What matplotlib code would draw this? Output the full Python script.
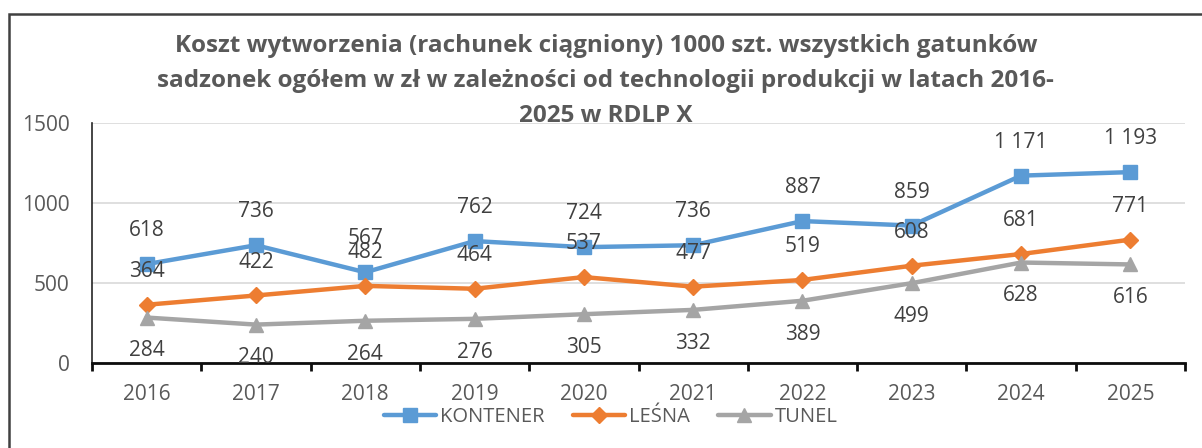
import matplotlib.pyplot as plt
from matplotlib.patches import Rectangle
import numpy as np

# Chart data.
YEARS = ["2016", "2017", "2018", "2019", "2020", "2021", "2022", "2023", "2024", "2025"]
KONTENER = [618, 736, 567, 762, 724, 736, 887, 859, 1171, 1193]
LESNA = [364, 422, 482, 464, 537, 477, 519, 608, 681, 771]
TUNEL = [284, 240, 264, 276, 305, 332, 389, 499, 628, 616]
SERIES_NAMES = ["KONTENER", "LEŚNA", "TUNEL"]
Y_TICKS = [0, 500, 1000, 1500]
TITLE = ("Koszt wytworzenia (rachunek ciągniony) 1000 szt. wszystkich gatunków\n"
         "sadzonek ogółem w zł w zależności od technologii produkcji w latach 2016-\n"
         "2025 w RDLP X")

TEXT_COLOR = "#595959"
FONT = ["Open Sans", "DejaVu Sans"]


def fmt(v):
    # Thousands separated by a space, like the Polish Excel output.
    return "{:,}".format(v).replace(",", " ")


def main():
    plt.rcParams['font.family'] = FONT

    W, H = 1202, 448
    fig = plt.figure(figsize=(W / 100, H / 100), dpi=100)

    # Outer chart border (only top and left visible in the crop).
    fig.patches.append(Rectangle((8.5 / W, -0.1), 1.2, (H - 14) / H + 0.1,
                                 transform=fig.transFigure, fill=False,
                                 edgecolor="#404040", linewidth=1.8))

    left, right, top, bottom = 92, 1185, 123, 363
    ax = fig.add_axes([left / W, 1 - bottom / H, (right - left) / W, (bottom - top) / H])

    x = np.arange(len(YEARS))
    styles = [
        (KONTENER, "#5B9BD5", "s", 10, 1),
        (LESNA, "#ED7D31", "D", 8, 1),
        (TUNEL, "#A5A5A5", "^", 10, -1),
    ]
    for (vals, color, marker, ms, side), name in zip(styles, SERIES_NAMES):
        ax.plot(x, vals, color=color, linewidth=3.2, marker=marker,
                markersize=ms, label=name, solid_capstyle="round", zorder=3)
        for xi, v in zip(x, vals):
            ax.annotate(fmt(v), (xi, v), xytext=(0, 24 * side),
                        textcoords="offset points", ha="center", va="center",
                        fontsize=15, color="#404040", zorder=4)

    ax.set_xlim(-0.5, len(YEARS) - 0.5)
    ax.set_ylim(0, 1500)
    ax.set_yticks(Y_TICKS)
    ax.set_yticklabels([str(t) for t in Y_TICKS])
    ax.set_xticks(x)
    ax.set_xticklabels(YEARS)
    ax.set_xticks(np.arange(-0.5, len(YEARS)), minor=True)

    ax.grid(axis="y", color="#D9D9D9", linewidth=1.2, zorder=0)
    ax.set_axisbelow(True)

    for s in ["top", "right"]:
        ax.spines[s].set_visible(False)
    ax.spines["left"].set_color("#262626")
    ax.spines["left"].set_linewidth(1.2)
    ax.spines["bottom"].set_color("#0D0D0D")
    ax.spines["bottom"].set_linewidth(2)

    ax.tick_params(axis="y", length=0, pad=16, labelsize=15, labelcolor=TEXT_COLOR)
    ax.tick_params(axis="x", which="major", length=0, pad=15, labelsize=15,
                   labelcolor=TEXT_COLOR)
    ax.tick_params(axis="x", which="minor", length=6, width=2, color="#0D0D0D")

    fig.text(0.504, 1 - 81 / H, TITLE, ha="center", va="center", fontsize=17.5,
             fontweight="bold", color=TEXT_COLOR, linespacing=1.6)

    leg = fig.legend(loc="center", bbox_to_anchor=(0.508, 1 - 417 / H), ncol=3,
                     frameon=False, fontsize=14.5, handlelength=2.6,
                     handletextpad=0.2, columnspacing=1.4)
    for t in leg.get_texts():
        t.set_color(TEXT_COLOR)

    plt.savefig("out.png", dpi=100)


if __name__ == "__main__":
    main()
